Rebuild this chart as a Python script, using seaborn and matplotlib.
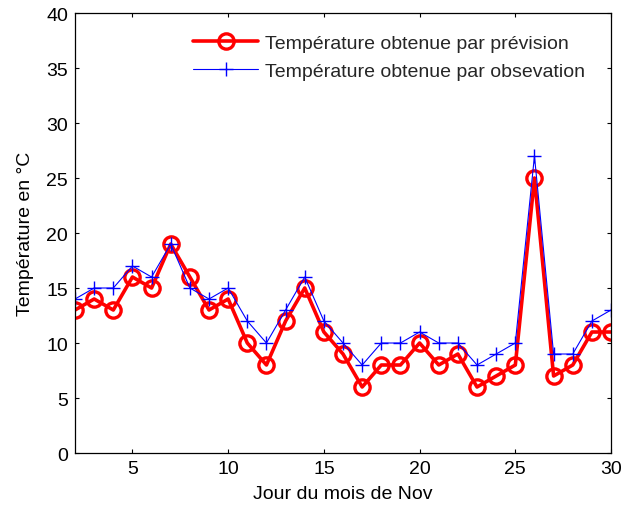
import matplotlib
matplotlib.use("Agg")
import matplotlib.pyplot as plt
import seaborn as sns
import pandas as pd

days = list(range(2, 31))
prevision = [13, 14, 13, 16, 15, 19, 16, 13, 14, 10, 8, 12, 15, 11, 9, 6, 8, 8, 10, 8, 9, 6, 7, 8, 25, 7, 8, 11, 11]
observation = [14, 15, 15, 17, 16, 19, 15, 14, 15, 12, 10, 13, 16, 12, 10, 8, 10, 10, 11, 10, 10, 8, 9, 10, 27, 9, 9, 12, 13]
label_prev = "Température obtenue par prévision"
label_obs = "Température obtenue par obsevation"

sns.set_theme(style="white")
plt.rcParams["font.family"] = ["Liberation Sans", "DejaVu Sans"]

fig = plt.figure(figsize=(6.23, 5.10), dpi=100)
ax = fig.add_axes([0.1204, 0.1098, 0.8604, 0.8627])

df = pd.DataFrame({"jour": days, "prev": prevision, "obs": observation})

sns.lineplot(data=df, x="jour", y="prev", ax=ax, color="red", linewidth=2.6,
             marker="o", markersize=11, markerfacecolor="none",
             markeredgecolor="red", markeredgewidth=2.4, label=label_prev)
sns.lineplot(data=df, x="jour", y="obs", ax=ax, color="blue", linewidth=0.8,
             marker="+", markersize=10, markeredgewidth=1.0,
             markeredgecolor="blue", label=label_obs)

fs = 14
ax.set_xlim(2, 30)
ax.set_ylim(0, 40)
ax.set_xticks([5, 10, 15, 20, 25, 30])
ax.set_yticks(range(0, 41, 5))
ax.set_xlabel("Jour du mois de Nov", fontsize=fs, color="black", labelpad=6)
ax.set_ylabel("Température en °C", fontsize=fs, color="black", labelpad=9)
ax.tick_params(direction="in", length=3, width=0.8, labelsize=fs, colors="black",
               top=True, right=True, bottom=True, left=True, pad=5)
for s in ax.spines.values():
    s.set_visible(True)
    s.set_color("black")
    s.set_linewidth(0.9)

leg = ax.legend(loc="upper left", bbox_to_anchor=(0.22, 0.952), frameon=False,
                fontsize=fs, handlelength=3.35, handletextpad=0.36,
                borderpad=0, borderaxespad=0, labelspacing=0.55)

fig.savefig("out.png", dpi=100, facecolor="white")
